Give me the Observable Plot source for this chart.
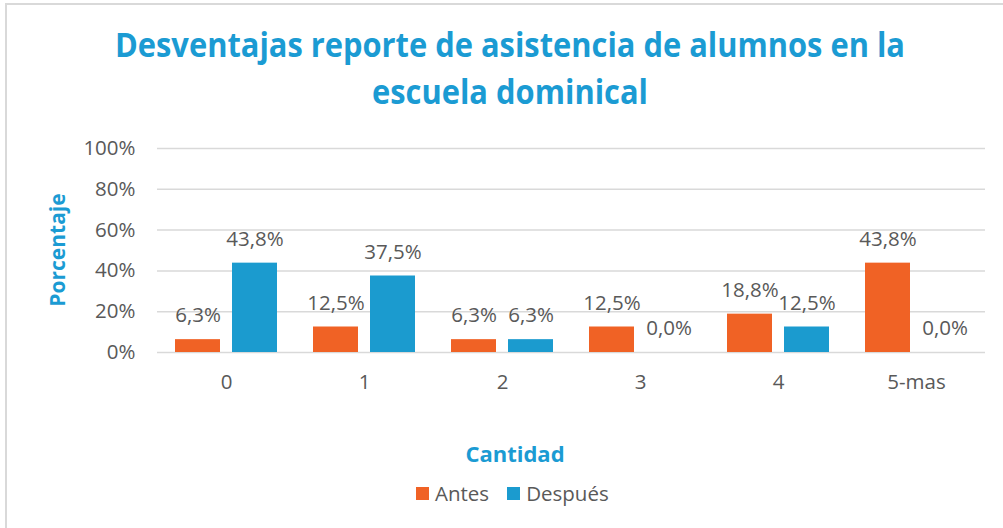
<!DOCTYPE html>
<html><head><meta charset="utf-8">
<script src="https://cdn.jsdelivr.net/npm/d3@7"></script>
<script src="https://cdn.jsdelivr.net/npm/@observablehq/plot@0.6"></script>
<style>
body{margin:0;overflow:hidden;background:#fff;font-family:"Open Sans",sans-serif}
#root{position:relative;width:1003px;height:528px;overflow:hidden;background:#fff}
#frame{position:absolute;left:5px;top:3px;width:1040px;height:580px;border:2px solid #d9d9d9}
#titlesvg{position:absolute;left:0;top:0}
#plot{position:absolute;left:0;top:120px}
#ytitle{position:absolute;left:57px;top:250px;transform:translate(-50%,-50%) rotate(-90deg);font-weight:700;font-size:21px;color:#1B9BD3;white-space:nowrap}
#xtitle{position:absolute;left:515px;top:453px;transform:translate(-50%,-50%);font-weight:700;font-size:22px;color:#1B9BD3;white-space:nowrap}
#legend{position:absolute;left:416px;top:479px}
.lg-swatches{font-size:20.5px!important;font-family:"Open Sans",sans-serif!important;color:#595959!important;min-height:28px!important}
.lg-swatch{margin-right:18px!important}
.lg-swatch svg{margin-right:6px!important}
</style></head><body>
<div id="root">
<div id="frame"></div>
<div id="plot"></div>
<div id="ytitle"></div>
<div id="xtitle"></div>
<div id="legend"></div>
</div>
<script>
const categories = ["0","1","2","3","4","5-mas"];
const series = ["Antes","Después"];
const antes = [6.3,12.5,6.3,12.5,18.8,43.8];
const despues = [43.8,37.5,6.3,0.0,12.5,0.0];
const yTicks = [0,20,40,60,80,100];
const colors = ["#F06225","#1B9BCF"];
const titleLines = ["Desventajas reporte de asistencia de alumnos en la","escuela dominical"];
const xTitle = "Cantidad";
const yTitle = "Porcentaje";

const data = categories.flatMap((c,i)=>[
  {cat:c, serie:series[0], value:antes[i]},
  {cat:c, serie:series[1], value:despues[i]}
]);
const fmt = v => v.toFixed(1).replace(".", ",") + "%";

// Title
const ns = "http://www.w3.org/2000/svg";
const tsvg = document.createElementNS(ns,"svg");
tsvg.setAttribute("id","titlesvg");
tsvg.setAttribute("width",1003);
tsvg.setAttribute("height",120);
const tl = [{y:57,len:790},{y:104,len:276}];
titleLines.forEach((t,i)=>{
  const el = document.createElementNS(ns,"text");
  el.textContent = t;
  el.setAttribute("x",510);
  el.setAttribute("y",tl[i].y);
  el.setAttribute("text-anchor","middle");
  el.setAttribute("textLength",tl[i].len);
  el.setAttribute("lengthAdjust","spacingAndGlyphs");
  el.setAttribute("font-family","Open Sans, sans-serif");
  el.setAttribute("font-weight","700");
  el.setAttribute("font-size","34");
  el.setAttribute("fill","#1B9BD3");
  tsvg.appendChild(el);
});
document.getElementById("root").appendChild(tsvg);

const chart = Plot.plot({
  width:1003, height:290,
  marginLeft:155, marginRight:17, marginTop:28, marginBottom:58,
  style:{fontFamily:"Open Sans, sans-serif", fontSize:"20.5px", color:"#595959", background:"transparent"},
  fx:{domain:categories, padding:0, label:null, tickSize:0, tickPadding:22, axis:"bottom"},
  x:{domain:series, axis:null, paddingInner:0.207, paddingOuter:0.297},
  y:{domain:[0,100], ticks:yTicks, tickFormat:d=>d+"%", tickSize:0, tickPadding:22, label:null},
  color:{domain:series, range:colors},
  marks:[
    Plot.gridY(yTicks,{stroke:"#d9d9d9", strokeOpacity:1, strokeWidth:1.5}),
    Plot.barY(data,{fx:"cat", x:"serie", y:"value", fill:"serie"}),
    Plot.text(data,{fx:"cat", x:"serie", y:"value", text:d=>fmt(d.value), dy:-24, fill:"#595959", fontSize:20.5})
  ]
});
document.getElementById("plot").appendChild(chart);
document.getElementById("ytitle").textContent = yTitle;
document.getElementById("xtitle").textContent = xTitle;

const leg = Plot.legend({color:{domain:series, range:colors}, swatchSize:13, className:"lg"});
document.getElementById("legend").appendChild(leg);
</script>
</body></html>
